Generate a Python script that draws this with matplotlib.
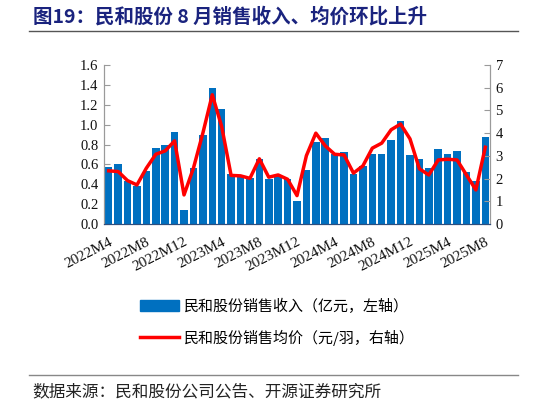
import matplotlib
matplotlib.use("Agg")
import matplotlib.pyplot as plt
from matplotlib.lines import Line2D
from matplotlib.patches import Patch

months = []
for y in (2022, 2023, 2024, 2025):
    for m in range(1, 13):
        if (y == 2022 and m < 4) or (y == 2025 and m > 8):
            continue
        months.append(f"{y}M{m}")

revenue = [0.57, 0.60, 0.43, 0.38, 0.53, 0.76, 0.80, 0.93, 0.14, 0.56,
           0.90, 1.37, 1.16, 0.50, 0.47, 0.46, 0.65, 0.45, 0.48, 0.45,
           0.23, 0.54, 0.83, 0.87, 0.70, 0.72, 0.50, 0.58, 0.70, 0.70,
           0.85, 1.04, 0.69, 0.65, 0.56, 0.75, 0.70, 0.73, 0.52, 0.43,
           0.88]
price = [2.34, 2.31, 1.91, 1.72, 2.46, 3.07, 3.22, 3.66, 1.28, 2.46,
         4.00, 5.69, 4.29, 2.14, 2.12, 2.01, 2.87, 2.06, 2.16, 1.97,
         1.25, 3.01, 4.00, 3.44, 3.07, 3.04, 2.24, 2.56, 3.34, 3.56,
         4.15, 4.40, 3.75, 2.43, 2.16, 2.82, 2.85, 2.82, 2.16, 1.50,
         3.38]

tick_labels = ["2022M4", "2022M8", "2022M12", "2023M4", "2023M8", "2023M12",
               "2024M4", "2024M8", "2024M12", "2025M4", "2025M8"]

title = "图19：民和股份 8 月销售收入、均价环比上升"
label_rev = "民和股份销售收入（亿元，左轴）"
label_price = "民和股份销售均价（元/羽，右轴）"
source = "数据来源：民和股份公司公告、开源证券研究所"

cjk = ["Noto Sans CJK SC", "DejaVu Sans"]
serif = ["Liberation Serif", "DejaVu Serif"]

BLUE = "#0070C0"
RED = "#FF0000"
GREY = "#9A9A9A"

fig = plt.figure(figsize=(5.46, 4.04), dpi=100)
ax = fig.add_axes([104/546, 1-224/404, 386/546, 159/404])
ax2 = ax.twinx()

x = list(range(len(months)))
ax.bar(x, revenue, width=0.8, color=BLUE, zorder=2)
ax2.plot(x, price, color=RED, lw=2.5, zorder=3)

ax.set_xlim(-0.5, len(months) - 0.5)
ax.set_ylim(0, 1.6)
ax2.set_ylim(0, 7)
ax.set_yticks([i * 0.2 for i in range(9)])
ax.set_yticklabels([f"{i*0.2:.1f}" for i in range(9)])
ax2.set_yticks(range(8))

pos = [months.index(t) for t in tick_labels]
ax.set_xticks(pos)
ax.set_xticklabels(tick_labels, rotation=27, ha="right", va="top",
                   rotation_mode="anchor")

for a in (ax, ax2):
    a.spines["top"].set_visible(False)
    a.spines["left"].set_color(GREY)
    a.spines["right"].set_color(GREY)
    a.spines["bottom"].set_color("#2F4F7F")
    a.tick_params(axis="y", direction="in", length=4, color=GREY, pad=4,
                  labelsize=10.5)
ax.tick_params(axis="x", length=0, pad=8, labelsize=11)
for lab in ax.get_xticklabels() + ax.get_yticklabels() + ax2.get_yticklabels():
    lab.set_fontfamily(serif)
    lab.set_color("#111111")

# title and rules
fig.text(33/546, 1-22/404, title, fontsize=14, fontweight="bold",
         color="#1A237E", family=cjk, ha="left", va="baseline")
fig.add_artist(Line2D([29/546, 518/546], [1-30.5/404, 1-30.5/404],
                      color="#555555", lw=1.0))
fig.add_artist(Line2D([29/546, 518/546], [1-375/404, 1-375/404],
                      color="#888888", lw=1.0))
fig.text(32/546, 1-392/404, source, fontsize=12, color="#222222",
         family=cjk, ha="left", va="center")

handles = [Patch(facecolor=BLUE, edgecolor=BLUE),
           Line2D([0], [0], color=RED, lw=2.5)]
leg = fig.legend(handles, [label_rev, label_price], loc="center left",
                 bbox_to_anchor=(126/546, 1-322/404), frameon=False,
                 prop={"family": cjk, "size": 10.8}, handlelength=2.6,
                 handleheight=0.75, handletextpad=0.35, labelspacing=1.05)

fig.savefig("out.png", dpi=100)
